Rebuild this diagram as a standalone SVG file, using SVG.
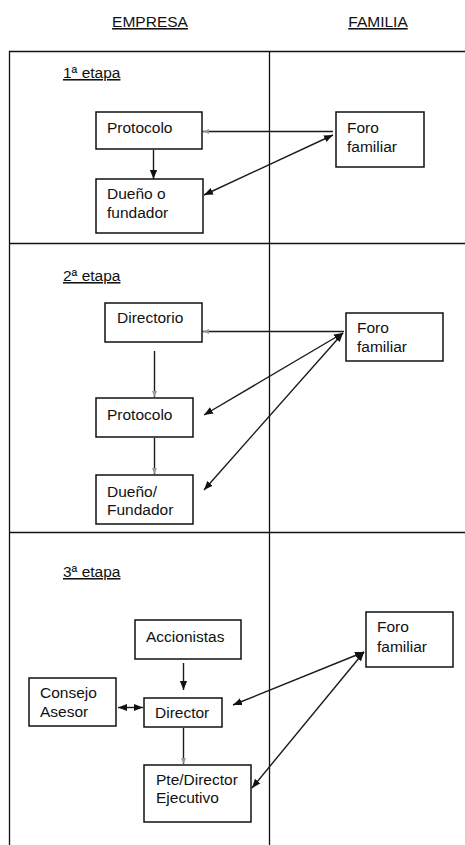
<svg xmlns="http://www.w3.org/2000/svg" width="465" height="845" viewBox="0 0 465 845">
<defs>
<style>
text{font-family:"Liberation Sans",Arial,sans-serif;font-size:15.5px;fill:#111}
.u{text-decoration:underline}
.box{fill:#fff;stroke:#111;stroke-width:1.5}
.grid{stroke:#111;stroke-width:1.3;fill:none}
.c{stroke:#1a1a1a;stroke-width:1.4;fill:none}
.f{fill:#999;stroke:none}
</style>
<marker id="ah" viewBox="0 0 10 10" refX="10" refY="5" markerWidth="9" markerHeight="9" markerUnits="userSpaceOnUse" orient="auto-start-reverse"><path d="M0,1 L10,5 L0,9 z" fill="#111"/></marker>
</defs>
<rect width="465" height="845" fill="#fff"/>
<g id="headers">
<text class="u" x="150" y="27" text-anchor="middle">EMPRESA</text>
<text class="u" x="378" y="27" text-anchor="middle">FAMILIA</text>
</g>
<g id="grid">
<path class="grid" d="M9,51.5 H465 M9,243.5 H465 M9,532.5 H465 M9.5,51 V845 M269.5,51 V845"/>
</g>
<g id="stage-labels">
<text class="u" x="63" y="78">1ª etapa</text>
<text class="u" x="63" y="281">2ª etapa</text>
<text class="u" x="63" y="577">3ª etapa</text>
</g>
<g id="connectors">
<line class="c" x1="153.5" y1="150" x2="153.5" y2="179" marker-end="url(#ah)"/>
<line class="c" x1="203" y1="131.5" x2="333" y2="131.5"/>
<path class="f" d="M203,131.5 L209,129 L209,134 z"/>
<line class="c" x1="204" y1="195" x2="333" y2="135" marker-start="url(#ah)" marker-end="url(#ah)"/>
<line class="c" x1="203" y1="331.5" x2="344" y2="331.5"/>
<path class="f" d="M203,331.5 L209,329 L209,334 z"/>
<line class="c" x1="154.5" y1="351" x2="154.5" y2="397"/>
<path class="f" d="M154.5,397 L152,391 L157,391 z"/>
<line class="c" x1="154.5" y1="438" x2="154.5" y2="474"/>
<path class="f" d="M154.5,474 L152,468 L157,468 z"/>
<line class="c" x1="204" y1="415" x2="343" y2="333" marker-start="url(#ah)" marker-end="url(#ah)"/>
<line class="c" x1="204" y1="490" x2="343" y2="333" marker-start="url(#ah)" marker-end="url(#ah)"/>
<line class="c" x1="183.5" y1="663" x2="183.5" y2="690" marker-end="url(#ah)"/>
<line class="c" x1="118" y1="707.5" x2="143" y2="707.5" marker-start="url(#ah)" marker-end="url(#ah)"/>
<line class="c" x1="183.5" y1="728" x2="183.5" y2="764"/>
<path class="f" d="M183.5,764 L181,758 L186,758 z"/>
<line class="c" x1="233" y1="705" x2="364" y2="652" marker-start="url(#ah)" marker-end="url(#ah)"/>
<line class="c" x1="252" y1="788" x2="364" y2="652" marker-start="url(#ah)" marker-end="url(#ah)"/>
</g>
<g id="n1-protocolo"><rect class="box" x="96" y="112" width="106" height="37"/><text x="107" y="133">Protocolo</text></g>
<g id="n1-dueno"><rect class="box" x="96" y="179" width="107" height="54"/><text x="107" y="199">Dueño o</text><text x="107" y="218">fundador</text></g>
<g id="n1-foro"><rect class="box" x="336" y="112" width="88" height="55"/><text x="347" y="133">Foro</text><text x="347" y="152">familiar</text></g>
<g id="n2-directorio"><rect class="box" x="105" y="303" width="97" height="39"/><text x="117" y="323">Directorio</text></g>
<g id="n2-foro"><rect class="box" x="346" y="313" width="97" height="48"/><text x="357" y="333">Foro</text><text x="357" y="352">familiar</text></g>
<g id="n2-protocolo"><rect class="box" x="96" y="398" width="97" height="39"/><text x="107" y="420">Protocolo</text></g>
<g id="n2-dueno"><rect class="box" x="96" y="475" width="97" height="49"/><text x="107" y="497">Dueño/</text><text x="107" y="515">Fundador</text></g>
<g id="n3-accionistas"><rect class="box" x="135" y="620" width="106" height="39"/><text x="146" y="642">Accionistas</text></g>
<g id="n3-consejo"><rect class="box" x="29" y="678" width="87" height="48"/><text x="40" y="698">Consejo</text><text x="40" y="717">Asesor</text></g>
<g id="n3-director"><rect class="box" x="144" y="698" width="78" height="29"/><text x="155" y="718">Director</text></g>
<g id="n3-pte"><rect class="box" x="144" y="765" width="107" height="57"/><text x="156" y="785">Pte/Director</text><text x="156" y="803">Ejecutivo</text></g>
<g id="n3-foro"><rect class="box" x="366" y="612" width="87" height="55"/><text x="377" y="632">Foro</text><text x="377" y="652">familiar</text></g>
</svg>
